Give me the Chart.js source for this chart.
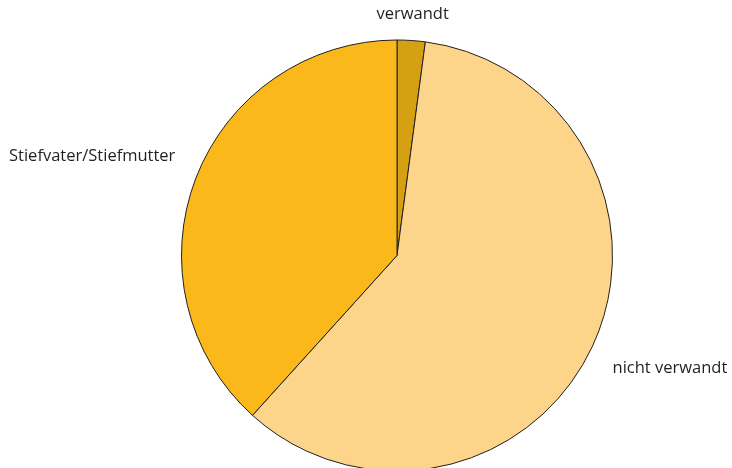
<!DOCTYPE html>
<html>
<head>
<meta charset="utf-8">
<script src="https://cdn.jsdelivr.net/npm/chart.js@4"></script>
<style>
  html, body { margin: 0; padding: 0; background: #fff; overflow: hidden; }
  #wrap { width: 732px; height: 468px; position: relative; }
</style>
</head>
<body>
<div id="wrap"><canvas id="pie" width="732" height="468"></canvas></div>
<script>
// Daten (Anteile in %)
const labels = ["verwandt", "nicht verwandt", "Stiefvater/Stiefmutter"];
const values = [2.1, 59.6, 38.3];
const colors = ["#D5A012", "#FDD58A", "#FBB81A"];

// Beschriftungen aussen am Kreis
const outerLabels = {
    id: "outerLabels",
    afterDatasetsDraw(chart) {
        const ctx = chart.ctx;
        const meta = chart.getDatasetMeta(0);
        ctx.save();
        ctx.font = "16.5px 'Open Sans'";
        ctx.fillStyle = "#231F20";
        ctx.textBaseline = "middle";
        meta.data.forEach((arc, i) => {
            const mid = (arc.startAngle + arc.endAngle) / 2;
            const r = arc.outerRadius + 22;
            const c = Math.cos(mid);
            const s = Math.sin(mid);
            const x = arc.x + c * r;
            let y = arc.y + s * r;
            if (Math.abs(c) < 0.2) {
                ctx.textAlign = "center";
                y -= 4;
            } else {
                ctx.textAlign = c > 0 ? "left" : "right";
                y += Math.sign(s) * 13.5;
            }
            ctx.fillText(labels[i], x, y);
        });
        ctx.restore();
    }
};

new Chart(document.getElementById("pie"), {
    type: "pie",
    data: {
        labels: labels,
        datasets: [{
            data: values,
            backgroundColor: colors,
            borderColor: "#231F20",
            borderWidth: 1,
            clip: false,
        }],
    },
    options: {
        responsive: false,
        animation: false,
        radius: 215.5,
        layout: { padding: { top: 43, bottom: 0, left: 62, right: 0 } },
        plugins: {
            legend: { display: false },
            tooltip: { enabled: false },
        },
    },
    plugins: [outerLabels],
});
</script>
</body>
</html>
